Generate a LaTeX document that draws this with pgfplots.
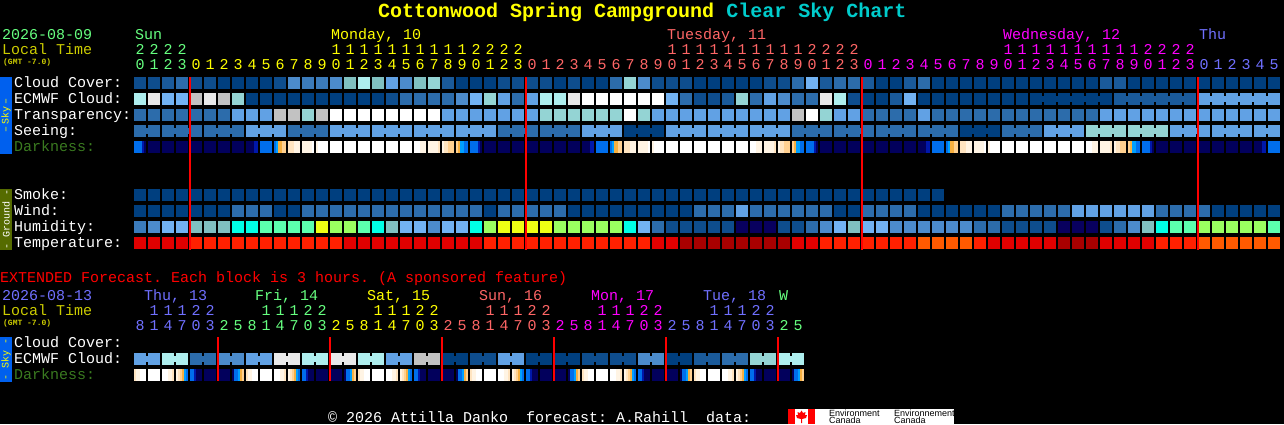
\documentclass[border=0pt]{standalone}
\usepackage{fontspec}
\setmainfont{Liberation Mono}
\usepackage{pgfplots}
\usepackage{pgfplotstable}
\pgfplotsset{compat=1.18}
\newfontfamily\sanslogo{Liberation Sans}
\frenchspacing

\definecolor{ca}{HTML}{003F7F}\definecolor{cb}{HTML}{0E4D8D}\definecolor{cp}{HTML}{1A5A9A}
\definecolor{cc}{HTML}{2C6CAB}\definecolor{cq}{HTML}{3B7BBB}\definecolor{cd}{HTML}{4C8BCB}
\definecolor{ce}{HTML}{61A1E4}\definecolor{cf}{HTML}{72B2F2}\definecolor{cg}{HTML}{80C0C0}
\definecolor{ch}{HTML}{94D4D4}\definecolor{ci}{HTML}{AEEEEE}\definecolor{cj}{HTML}{E9E9E9}
\definecolor{ck}{HTML}{C2C2C2}\definecolor{cn}{HTML}{00FFE6}\definecolor{cm}{HTML}{5CFFAE}
\definecolor{co}{HTML}{9AFF60}\definecolor{cy}{HTML}{EEFF14}\definecolor{cv}{HTML}{08005E}
\definecolor{cR}{HTML}{A80000}\definecolor{cS}{HTML}{E00000}\definecolor{cT}{HTML}{FF2000}
\definecolor{cU}{HTML}{FF5A00}
\definecolor{tgreen}{HTML}{66FF80}\definecolor{tolive}{HTML}{CCCC00}\definecolor{tsalmon}{HTML}{FF6666}
\definecolor{tperi}{HTML}{7070FF}\definecolor{tcyan}{HTML}{00CCCC}\definecolor{tdark}{HTML}{3A7A20}
\definecolor{skyblue}{HTML}{0060EE}\definecolor{groundolive}{HTML}{556B00}
\definecolor{tyellow}{HTML}{FFFF00}\definecolor{tmag}{HTML}{FF00FF}\definecolor{tred}{HTML}{FF0000}

\pgfdeclareplotmark{cell}{\pgfpathrectangle{\pgfqpoint{-6pt}{-6pt}}{\pgfqpoint{12pt}{12pt}}\pgfusepathqfill}
\pgfdeclareplotmark{conn}{\pgfpathrectangle{\pgfqpoint{-2pt}{-3pt}}{\pgfqpoint{4pt}{6pt}}\pgfusepathqfill}
\pgfdeclareplotmark{strip}{\pgfpathrectangle{\pgfqpoint{-1pt}{-6pt}}{\pgfqpoint{2.4pt}{12pt}}\pgfusepathqfill}
\pgfdeclareplotmark{striplast}{\pgfpathrectangle{\pgfqpoint{-1pt}{-6pt}}{\pgfqpoint{2pt}{12pt}}\pgfusepathqfill}

\pgfplotstableread{
i cc ec tr se sm wi hu te s1 s2 s3 s4 s5 s6
0 b i c c a a q S 2 2 2 2 1 0
1 b j c c a a d S 0 0 0 0 0 0
2 p f c c a a f S 0 0 0 0 0 0
3 c f c c a a f S 0 0 0 0 0 0
4 b k c c a a g T 0 0 0 0 0 0
5 b j c c a a g T 0 0 0 0 0 0
6 a k c c a a g T 0 0 0 0 0 0
7 a h e c a c n T 0 0 0 0 0 0
8 a a e e a c n T 0 0 0 0 1 1
9 a a e e a c m T 2 2 2 2 2 2
10 b a k e a a m T 2 3 4 4 5 5
11 d a k c a a m T 6 6 6 7 7 7
12 q a h c a c m T 7 7 7 7 7 8
13 q a k c a c y T 7 8 8 8 8 8
14 d a l e a c o T 8 8 8 8 8 8
15 g a l e a c o S 8 8 8 8 8 8
16 i a l e a c m S 8 8 8 8 8 8
17 g a l e a c n S 8 8 8 8 8 8
18 e b l e a c g S 8 8 8 8 8 8
19 d c l e a c f S 8 8 8 8 8 8
20 g c l e a c f S 8 8 8 7 7 7
21 h c l e a c d S 7 7 7 7 7 6
22 p c e e a c f S 7 6 6 5 5 5
23 a d e e a c f S 5 4 3 3 2 2
24 a f e e a c n S 2 2 2 2 1 0
25 a h e e a a o T 0 0 0 0 0 0
26 b e e c a c y T 0 0 0 0 0 0
27 b c e c a c y T 0 0 0 0 0 0
28 b e e c a c y T 0 0 0 0 0 0
29 b i h c a c y T 0 0 0 0 0 0
30 a i h c a c o T 0 0 0 0 0 0
31 b j h c a a o T 0 0 0 0 0 0
32 a l h e a a o T 0 0 0 0 1 1
33 a l h e a a o T 2 2 2 2 2 2
34 c l h e a a o T 2 3 4 4 5 5
35 h l l a a a n T 6 6 6 7 7 7
36 d l h a a a f T 7 7 7 7 7 8
37 b l e a a a c S 7 8 8 8 8 8
38 b f e e a a b S 8 8 8 8 8 8
39 b c e e a a b R 8 8 8 8 8 8
40 a b e e a c b R 8 8 8 8 8 8
41 a b e e a c b R 8 8 8 8 8 8
42 a p e e a c b R 8 8 8 8 8 8
43 a h e e a e v R 8 8 8 8 8 8
44 a c e e a c v R 8 8 8 7 7 7
45 b e e e a c v R 7 7 7 7 7 6
46 b d e e a c b R 7 6 6 5 5 5
47 c c k c a c b S 5 4 3 3 2 2
48 f c l c a c c S 2 2 2 2 1 0
49 p j h c a c d T 0 0 0 0 0 0
50 c i e c a a f T 0 0 0 0 0 0
51 c b e c a a g T 0 0 0 0 0 0
52 p a c c a c f T 0 0 0 0 0 0
53 a a c c a c f T 0 0 0 0 0 0
54 a p c c a c d T 0 0 0 0 0 0
55 p f c c a c d T 0 0 0 0 0 0
56 c a e c a a d U 0 0 0 0 1 1
57 a a c c a a d U 2 2 2 2 2 2
58 a a c c a a d U 2 3 4 4 5 5
59 a a c a a a d U 6 6 6 7 7 7
60 a a c a a a c T 7 7 7 7 7 8
61 a a c a a a c S 7 8 8 8 8 8
62 a a c c a c b S 8 8 8 8 8 8
63 a a c c a c b S 8 8 8 8 8 8
64 a a c c a c b S 8 8 8 8 8 8
65 a a c e a c b S 8 8 8 8 8 8
66 a a c e a c v R 8 8 8 8 8 8
67 a a c e a e v R 8 8 8 8 8 8
68 a a c h a e v R 8 8 8 7 7 7
69 p a e h a e b S 7 7 7 7 7 6
70 p p e h a e c S 7 6 6 5 5 5
71 a p e h a e d S 5 4 3 3 2 2
72 a p e h a e g S 2 2 2 2 1 0
73 a p e h a c n T 0 0 0 0 0 0
74 a p e e a c m T 0 0 0 0 0 0
75 a p e e a c m T 0 0 0 0 0 0
76 a e e e a c o U 0 0 0 0 0 0
77 a e e e a a o U 0 0 0 0 0 0
78 a e e e a a o U 0 0 0 0 0 0
79 a e e e a a o U 0 0 0 0 0 0
80 a e e e a a o U 0 0 0 0 1 1
81 a e e e a a m U 2 2 2 2 2 2
}\maintab

\pgfplotstableread{
i ec s1 s2 s3 s4 s5 s6
0 e 6 7 7 8 8 8
1 e 8 8 8 8 8 8
2 i 8 8 8 7 7 6
3 i 7 6 5 4 3 2
4 c 2 2 1 0 0 0
5 c 0 0 0 0 0 0
6 d 0 0 0 0 0 0
7 d 0 2 2 3 4 5
8 e 6 7 7 8 8 8
9 e 8 8 8 8 8 8
10 j 8 8 8 7 7 6
11 j 7 6 5 4 3 2
12 i 2 2 1 0 0 0
13 i 0 0 0 0 0 0
14 j 0 0 0 0 0 0
15 j 0 2 2 3 4 5
16 i 6 7 7 8 8 8
17 i 8 8 8 8 8 8
18 e 8 8 8 7 7 6
19 e 7 6 5 4 3 2
20 k 2 2 1 0 0 0
21 k 0 0 0 0 0 0
22 a 0 0 0 0 0 0
23 a 0 2 2 3 4 5
24 b 6 7 7 8 8 8
25 b 8 8 8 8 8 8
26 e 8 8 8 7 7 6
27 e 7 6 5 4 3 2
28 a 2 2 1 0 0 0
29 a 0 0 0 0 0 0
30 a 0 0 0 0 0 0
31 a 0 2 2 3 4 5
32 b 6 7 7 8 8 8
33 b 8 8 8 8 8 8
34 b 8 8 8 7 7 6
35 b 7 6 5 4 3 2
36 d 2 2 1 0 0 0
37 d 0 0 0 0 0 0
38 a 0 0 0 0 0 0
39 a 0 2 2 3 4 5
40 p 6 7 7 8 8 8
41 p 8 8 8 8 8 8
42 c 8 8 8 7 7 6
43 c 7 6 5 4 3 2
44 h 2 2 1 0 0 0
45 h 0 0 0 0 0 0
46 i 0 0 0 0 0 0
47 i 0 2 2 3 4 5
}\exttab

\pgfplotstableread{
i c
64 a
65 a
66 a
67 a
68 a
70 p
71 p
72 p
73 p
74 p
76 e
77 e
78 e
79 e
80 e
}\ecjoin

\pgfplotsset{
 cellclasses/.style={only marks,scatter,scatter src=explicit symbolic,
  scatter/classes={
   a={fill=ca},b={fill=cb},p={fill=cp},c={fill=cc},q={fill=cq},d={fill=cd},e={fill=ce},
   f={fill=cf},g={fill=cg},h={fill=ch},i={fill=ci},j={fill=cj},k={fill=ck},l={fill=white},
   n={fill=cn},m={fill=cm},o={fill=co},y={fill=cy},v={fill=cv},
   R={fill=cR},S={fill=cS},T={fill=cT},U={fill=cU}}},
 stripplot/.style={only marks,scatter,scatter src=explicit,mark=#1,scatter/use mapped color={fill=mapped color,draw=none}},
 pixelaxis/.style={at={(0pt,0pt)},anchor=south west,scale only axis,width=1284pt,height=424pt,
  xmin=0,xmax=1284,ymin=0,ymax=424,y dir=reverse,hide axis,clip=false,unbounded coords=jump},
}
\newcommand\cellrow[2]{\addplot[cellclasses,mark=cell] table[x expr={140+14*\thisrow{i}},y expr={#2},meta=#1]{\maintab};}
\newcommand\stripmain[3][strip]{\addplot[stripplot=#1] table[x expr={135+14*\thisrow{i}+#2},y expr=147,meta=s#3]{\maintab};}
\newcommand\stripext[3][strip]{\addplot[stripplot=#1] table[x expr={135+14*\thisrow{i}+#2},y expr=375,meta=s#3]{\exttab};}

\newcommand\T[4]{\node[anchor=base west,inner sep=0pt,outer sep=0pt,text=#3] at ({#1pt},{(424-#2)*1pt}) {#4};}
\newcommand\digits[4]{\foreach \d [count=\n from #1] in {#4} {\node[anchor=base,inner sep=0pt,text=#2] at ({(140+14*\n)*1pt},{(424-#3)*1pt}) {\d};}}
\newcommand\tfont{\fontsize{15}{15}\selectfont}

\begin{document}
\begin{tikzpicture}[x=1pt,y=1pt,font=\tfont]
\path[use as bounding box] (0,0) rectangle (1284pt,424pt);
\fill[black] (0,0) rectangle (1284pt,424pt);
\fill[skyblue] (0,{424-154}) rectangle (12,{424-77});
\fill[groundolive] (0,{424-250}) rectangle (12,{424-189});
\fill[skyblue] (0,{424-382}) rectangle (12,{424-337});
\begin{axis}[pixelaxis,
  colormap={dk}{rgb255=(2,0,92) rgb255=(0,24,170) rgb255=(0,110,236) rgb255=(0,160,255)
     rgb255=(248,176,64) rgb255=(255,208,144) rgb255=(255,228,192) rgb255=(255,244,228) rgb255=(255,255,255)},
  colormap name=dk,point meta min=0,point meta max=8]
% main chart cells
\cellrow{cc}{83}
\cellrow{ec}{99}
\cellrow{tr}{115}
\cellrow{se}{131}
\addplot[cellclasses,mark=cell,skip coords between index={58}{82}] table[x expr={140+14*\thisrow{i}},y expr=195,meta=sm]{\maintab};
\cellrow{wi}{211}
\cellrow{hu}{227}
\cellrow{te}{243}
% joined blocks: Seeing, runs of three hours
\addplot[cellclasses,mark=conn] table[x expr={147+14*\thisrow{i}},y expr={(mod(\thisrow{i},3)==1||\thisrow{i}==81)?nan:131},meta=se]{\maintab};
% joined blocks: ECMWF
\addplot[cellclasses,mark=conn] table[x expr={147+14*\thisrow{i}},y expr=99,meta=c]{\ecjoin};
% darkness strips
\stripmain{0}{1}\stripmain{2}{2}\stripmain{4}{3}\stripmain{6}{4}\stripmain{8}{5}\stripmain[striplast]{10}{6}
% extended
\addplot[cellclasses,mark=cell] table[x expr={140+14*\thisrow{i}},y expr=359,meta=ec]{\exttab};
\addplot[cellclasses,mark=conn] table[x expr={147+14*\thisrow{i}},y expr={mod(\thisrow{i},2)==0?359:nan},meta=ec]{\exttab};
\stripext{0}{1}\stripext{2}{2}\stripext{4}{3}\stripext{6}{4}\stripext{8}{5}\stripext[striplast]{10}{6}
\end{axis}
\begin{axis}[pixelaxis]
% midnight lines
\addplot[tred,line width=2pt,no marks] coordinates {(190,77)(190,250) (nan,nan) (526,77)(526,250) (nan,nan) (862,77)(862,250) (nan,nan) (1198,77)(1198,250)};
\addplot[tred,line width=2pt,no marks] coordinates {(218,337)(218,381) (nan,nan) (330,337)(330,381) (nan,nan) (442,337)(442,381) (nan,nan) (554,337)(554,381) (nan,nan) (666,337)(666,381) (nan,nan) (778,337)(778,381)};
\end{axis}

% title
\node[anchor=base west,inner sep=0pt,font=\bfseries\fontsize{20}{20}\selectfont] at (378,{424-18}) {\textcolor{tyellow}{Cottonwood Spring Campground}~\textcolor{tcyan}{Clear Sky Chart}};

% upper header
\T{2}{40}{tgreen}{2026-08-09}
\T{2}{55}{tolive}{Local Time}
\node[anchor=base west,inner sep=0pt,text=tolive,font=\bfseries\fontsize{8}{8}\selectfont] at (3,{424-65}) {(GMT -7.0)};
\T{135}{40}{tgreen}{Sun}
\T{331}{40}{tyellow}{Monday, 10}
\T{667}{40}{tsalmon}{Tuesday, 11}
\T{1003}{40}{tmag}{Wednesday, 12}
\T{1199}{40}{tperi}{Thu}
\digits{0}{tgreen}{55}{2,2,2,2}
\digits{14}{tyellow}{55}{1,1,1,1,1,1,1,1,1,1,2,2,2,2}
\digits{38}{tsalmon}{55}{1,1,1,1,1,1,1,1,1,1,2,2,2,2}
\digits{62}{tmag}{55}{1,1,1,1,1,1,1,1,1,1,2,2,2,2}
\digits{0}{tgreen}{70}{0,1,2,3}
\digits{4}{tyellow}{70}{0,1,2,3,4,5,6,7,8,9,0,1,2,3,4,5,6,7,8,9,0,1,2,3}
\digits{28}{tsalmon}{70}{0,1,2,3,4,5,6,7,8,9,0,1,2,3,4,5,6,7,8,9,0,1,2,3}
\digits{52}{tmag}{70}{0,1,2,3,4,5,6,7,8,9,0,1,2,3,4,5,6,7,8,9,0,1,2,3}
\digits{76}{tperi}{70}{0,1,2,3,4,5}

% row labels
\T{14}{87}{white}{Cloud Cover:}
\T{14}{103}{white}{ECMWF Cloud:}
\T{14}{119}{white}{Transparency:}
\T{14}{135}{white}{Seeing:}
\T{14}{151}{tdark}{Darkness:}
\T{14}{199}{white}{Smoke:}
\T{14}{215}{white}{Wind:}
\T{14}{231}{white}{Humidity:}
\T{14}{247}{white}{Temperature:}

% side bars
\node[rotate=90,text=tyellow,inner sep=0pt,font=\fontsize{10}{10}\selectfont] at (6,{424-115.5}) {--\,Sky\,--};
\node[rotate=90,text=white,inner sep=0pt,font=\fontsize{10}{10}\selectfont] at (6,{424-219.5}) {- Ground -};
\node[rotate=90,text=tyellow,inner sep=0pt,font=\fontsize{10}{10}\selectfont] at (6,{424-359.5}) {- Sky -};

% extended
\T{0}{282}{tred}{EXTENDED Forecast. Each block is 3 hours. (A sponsored feature)}
\T{2}{300}{tperi}{2026-08-13}
\T{2}{315}{tolive}{Local Time}
\node[anchor=base west,inner sep=0pt,text=tolive,font=\bfseries\fontsize{8}{8}\selectfont] at (3,{424-325}) {(GMT -7.0)};
\T{144}{300}{tperi}{Thu, 13}
\T{255}{300}{tgreen}{Fri, 14}
\T{367}{300}{tyellow}{Sat, 15}
\T{479}{300}{tsalmon}{Sun, 16}
\T{591}{300}{tmag}{Mon, 17}
\T{703}{300}{tperi}{Tue, 18}
\T{779}{300}{tgreen}{W}
\digits{1}{tperi}{315}{1,1,1,2,2}
\digits{9}{tgreen}{315}{1,1,1,2,2}
\digits{17}{tyellow}{315}{1,1,1,2,2}
\digits{25}{tsalmon}{315}{1,1,1,2,2}
\digits{33}{tmag}{315}{1,1,1,2,2}
\digits{41}{tperi}{315}{1,1,1,2,2}
\digits{0}{tperi}{330}{8,1,4,7,0,3}
\digits{6}{tgreen}{330}{2,5,8,1,4,7,0,3}
\digits{14}{tyellow}{330}{2,5,8,1,4,7,0,3}
\digits{22}{tsalmon}{330}{2,5,8,1,4,7,0,3}
\digits{30}{tmag}{330}{2,5,8,1,4,7,0,3}
\digits{38}{tperi}{330}{2,5,8,1,4,7,0,3}
\digits{46}{tgreen}{330}{2,5}
\T{14}{347.5}{white}{Cloud Cover:}
\T{14}{363}{white}{ECMWF Cloud:}
\T{14}{379}{tdark}{Darkness:}

% footer
\T{328}{422}{white}{© 2026 Attilla Danko~~forecast: A.Rahill~~data:}
\fill[white] (788,0) rectangle (954,{424-409});
\fill[tred] (788,0) rectangle (795,{424-409});
\fill[tred] (808,0) rectangle (815,{424-409});
\fill[tred] (801.5,{424-410.5}) -- (803,{424-413}) -- (805.5,{424-412}) -- (805,{424-415}) -- (807,{424-415}) -- (806,{424-418}) -- (802,{424-419}) -- (802,{424-423}) -- (801,{424-423}) -- (801,{424-419}) -- (797,{424-418}) -- (796,{424-415}) -- (798,{424-415}) -- (797.5,{424-412}) -- (800,{424-413}) -- cycle;
\node[anchor=base west,inner sep=0pt,text=black,font=\sanslogo\fontsize{9}{9}\selectfont] at (829,{424-416}) {Environment};
\node[anchor=base west,inner sep=0pt,text=black,font=\sanslogo\fontsize{9}{9}\selectfont] at (829,{424-423.5}) {Canada};
\node[anchor=base west,inner sep=0pt,text=black,font=\sanslogo\fontsize{9}{9}\selectfont] at (894,{424-416}) {Environnement};
\node[anchor=base west,inner sep=0pt,text=black,font=\sanslogo\fontsize{9}{9}\selectfont] at (894,{424-423.5}) {Canada};
\end{tikzpicture}
\end{document}
